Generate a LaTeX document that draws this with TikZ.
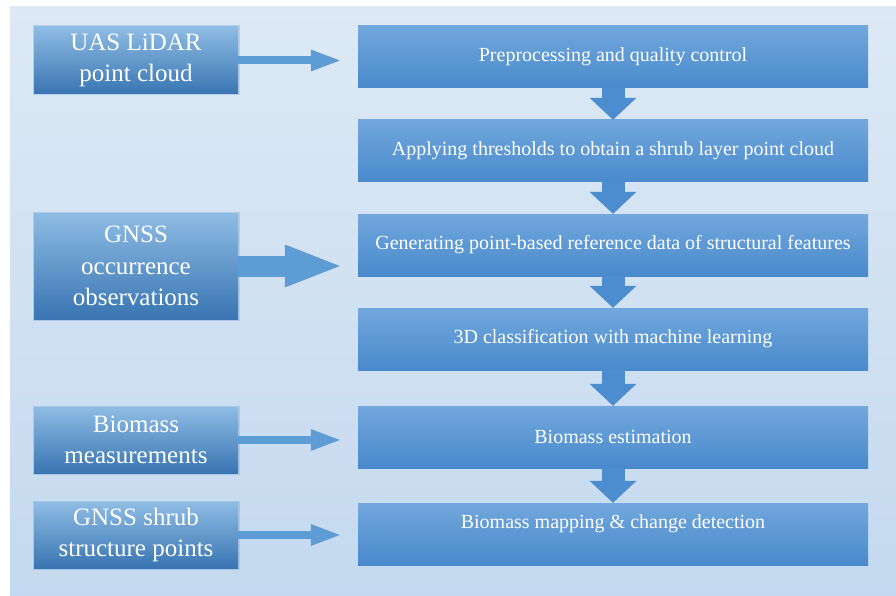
\documentclass[tikz,border=0pt]{standalone}
\usepackage{fontspec}
\setmainfont{Liberation Serif}
\usepackage{tikz}
\usetikzlibrary{calc}
\usetikzlibrary{arrows.meta}
\definecolor{bgtop}{RGB}{221,233,245}
\definecolor{bgbot}{RGB}{196,217,239}
\definecolor{steptop}{RGB}{113,167,220}
\definecolor{stepmid}{RGB}{92,155,217}
\definecolor{stepbot}{RGB}{73,138,204}
\definecolor{intop}{RGB}{142,188,228}
\definecolor{inmid}{RGB}{92,154,212}
\definecolor{inbot}{RGB}{57,117,178}
\definecolor{arrowblue}{RGB}{76,141,207}
\definecolor{inarrowblue}{RGB}{94,156,214}
\tikzset{
    stepbox/.style={minimum width=510pt, minimum height=62pt, inner sep=6pt, text=white, font=\fontsize{20}{24}\selectfont, top color=steptop, middle color=stepmid, bottom color=stepbot},
    inbox/.style={minimum width=204pt, inner sep=4pt, align=center, text=white, font=\fontsize{25}{31.5}\selectfont, top color=intop, middle color=inmid, bottom color=inbot, preaction={draw=inmid, line width=3pt, opacity=0.3}},
    downarrow/.style={draw=arrowblue, line width=23pt, -{Triangle[length=22pt,width=47pt,line width=0pt]}},
    inarrow/.style={draw=inarrowblue, line width=8pt, shorten >=18pt, -{Triangle[length=29pt,width=22pt,line width=0pt]}}
}

\begin{document}
\begin{tikzpicture}[x=1pt,y=-1pt]
\useasboundingbox (0,0) rectangle (896,596);
\fill[top color=bgtop, bottom color=bgbot] (10,7) rectangle (896,596);
\foreach \y/\p/\t in {57/b1/{Preprocessing and quality control}, 151/b2/{Applying thresholds to obtain a shrub layer point cloud}, 245/b3/{Generating point-based reference data of structural features}, 339/b4/{3D classification with machine learning}, 437/b5/{Biomass estimation}}{
    \node[stepbox] (\p) at (613,\y) {\t};
}
\node[stepbox, text height=19pt, text depth=31pt] (b6) at (613,534) {Biomass mapping \& change detection};
\foreach \a/\b in {b1/b2, b2/b3, b3/b4, b4/b5, b5/b6}{
    \draw[downarrow] (\a) -- (\b);
}
\foreach \y/\h/\p/\t in {60.5/67/l1/{UAS LiDAR\\point cloud}, 266/106/l2/{GNSS\\occurrence\\observations}, 440/66/l3/{Biomass\\measurements}, 535/66/l4/{GNSS shrub\\structure points}}{
    \node[inbox, minimum height=\h pt] (\p) at (136,\y) {\t};
}
\draw[inarrow] (l1.east) -- (l1.east -| b1.west);
\draw[inarrow, line width=21pt, -{Triangle[length=55pt,width=43pt,line width=0pt]}] (l2.east) -- (l2.east -| b3.west);
\draw[inarrow] (l3.east) -- (l3.east -| b5.west);
\draw[inarrow] (l4.east) -- (l4.east -| b6.west);
\end{tikzpicture}
\end{document}
